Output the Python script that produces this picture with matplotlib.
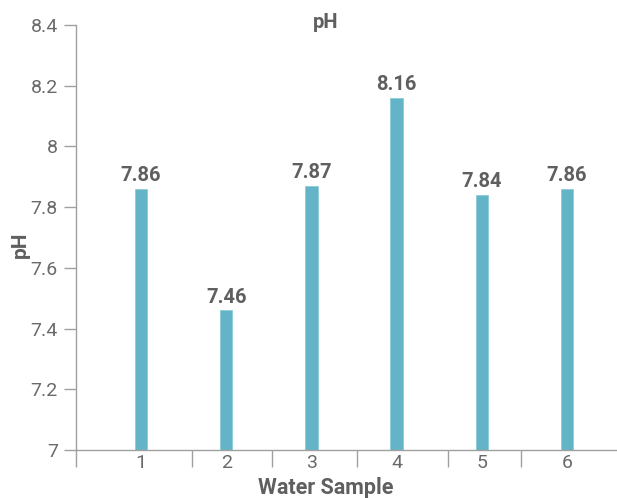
import matplotlib
matplotlib.use("Agg")
import matplotlib.pyplot as plt

samples = [1, 2, 3, 4, 5, 6]
ph_values = [7.86, 7.46, 7.87, 8.16, 7.84, 7.86]
y_ticks = [7, 7.2, 7.4, 7.6, 7.8, 8, 8.2, 8.4]
y_tick_labels = ["7", "7.2", "7.4", "7.6", "7.8", "8", "8.2", "8.4"]
# separator ticks on the category axis, as in the original
x_separators = [0.237, 1.6, 2.54, 3.54, 4.6, 5.46]

text_grey = "#5f5f5f"
tick_grey = "#6a6a6a"
axis_grey = "#a0a0a0"
bar_color = "#62b4c6"

plt.rcParams["font.family"] = ["Roboto", "DejaVu Sans"]

fig = plt.figure(figsize=(6.17, 4.98), dpi=100)
ax = fig.add_axes([76 / 617, 48 / 498, 541 / 617, 425 / 498])

ax.bar(samples, [v - 7 for v in ph_values], bottom=7, width=0.145,
       color=bar_color, edgecolor="#8ecbd8", linewidth=0.6)

for x, v in zip(samples, ph_values):
    ax.text(x, v + 0.012, f"{v:.2f}", ha="center", va="bottom",
            fontsize=14.5, fontweight="bold", color=text_grey)

ax.set_ylim(7, 8.4)
ax.set_xlim(0.237, 6.587)
ax.set_yticks(y_ticks)
ax.set_yticklabels(y_tick_labels, fontsize=14, color=tick_grey)
ax.set_xticks(samples)
ax.set_xticklabels([str(s) for s in samples], fontsize=14, color=tick_grey)
ax.set_xticks(x_separators, minor=True)
ax.tick_params(axis="x", which="major", length=0, pad=3)
ax.tick_params(axis="x", which="minor", length=12, color=axis_grey, width=1)
ax.tick_params(axis="y", length=9, color=axis_grey, width=1, pad=4)

for side in ["top", "right"]:
    ax.spines[side].set_visible(False)
for side in ["left", "bottom"]:
    ax.spines[side].set_color(axis_grey)
    ax.spines[side].set_linewidth(1)

fig.text(326 / 617, 1 - 488 / 498, "Water Sample", ha="center", va="center",
         fontsize=15.5, fontweight="bold", color=text_grey)
fig.text(20 / 617, 1 - 245 / 498, "pH", ha="center", va="center",
         rotation=90, fontsize=15, fontweight="bold", color=text_grey)
fig.text(326 / 617, 1 - 22 / 498, "pH", ha="center", va="center",
         fontsize=14.5, fontweight="bold", color=text_grey)

fig.savefig("out.png", dpi=100)
